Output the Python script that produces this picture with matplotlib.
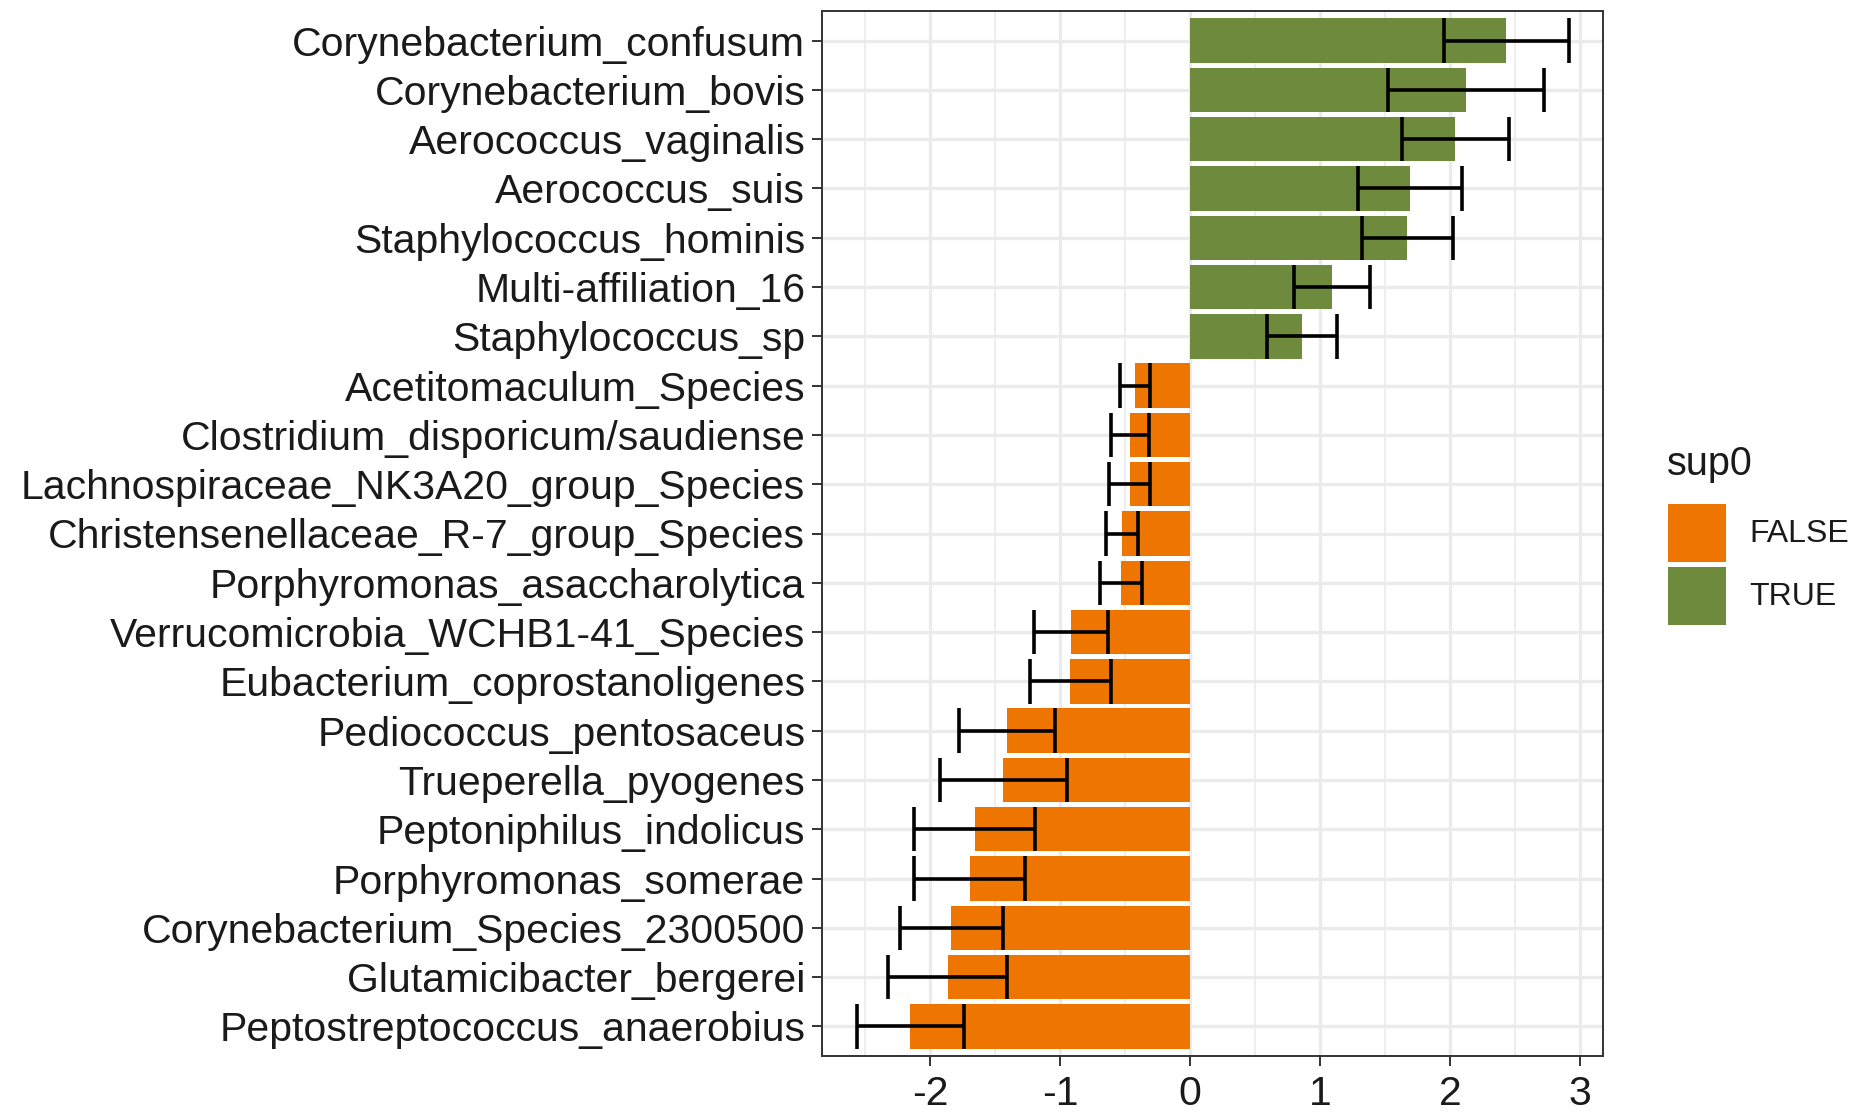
import matplotlib
matplotlib.use("Agg")
import matplotlib.pyplot as plt
from matplotlib.patches import Rectangle

plt.rcParams['font.family'] = ['Liberation Sans', 'DejaVu Sans']
plt.rcParams['axes.unicode_minus'] = False

# especies ordenadas de arriba a abajo
especies = [
    "Corynebacterium_confusum", "Corynebacterium_bovis", "Aerococcus_vaginalis",
    "Aerococcus_suis", "Staphylococcus_hominis", "Multi-affiliation_16",
    "Staphylococcus_sp", "Acetitomaculum_Species", "Clostridium_disporicum/saudiense",
    "Lachnospiraceae_NK3A20_group_Species", "Christensenellaceae_R-7_group_Species",
    "Porphyromonas_asaccharolytica", "Verrucomicrobia_WCHB1-41_Species",
    "Eubacterium_coprostanoligenes", "Pediococcus_pentosaceus", "Trueperella_pyogenes",
    "Peptoniphilus_indolicus", "Porphyromonas_somerae", "Corynebacterium_Species_2300500",
    "Glutamicibacter_bergerei", "Peptostreptococcus_anaerobius",
]
media = [2.43, 2.12, 2.04, 1.69, 1.67, 1.09, 0.86,
         -0.42, -0.46, -0.465, -0.525, -0.53, -0.915, -0.92,
         -1.41, -1.435, -1.655, -1.695, -1.835, -1.865, -2.15]
error = [0.48, 0.60, 0.41, 0.40, 0.35, 0.29, 0.27,
         0.115, 0.145, 0.155, 0.125, 0.16, 0.285, 0.31,
         0.37, 0.485, 0.465, 0.425, 0.395, 0.455, 0.41]

col_false = "#EE7600"
col_true = "#6E8B3D"
sup0 = [m > 0 for m in media]
colores = [col_true if s else col_false for s in sup0]

n = len(especies)
y = list(range(n))

fig = plt.figure(figsize=(18.55, 11.14), dpi=100)
ax = fig.add_axes([822 / 1855, 1 - 1056 / 1114, 781 / 1855, 1045 / 1114])

ax.barh(y, media, height=0.9, color=colores, zorder=2)
lo = [m - e for m, e in zip(media, error)]
hi = [m + e for m, e in zip(media, error)]
ax.hlines(y, lo, hi, color="black", linewidth=2.6, zorder=3)
ax.vlines(lo, [v - 0.45 for v in y], [v + 0.45 for v in y], color="black", linewidth=2.6, zorder=3)
ax.vlines(hi, [v - 0.45 for v in y], [v + 0.45 for v in y], color="black", linewidth=2.6, zorder=3)

ax.set_xlim(-2.83, 3.175)
ax.set_ylim(n - 0.4, -0.6)
ax.set_xticks([-2, -1, 0, 1, 2, 3])
ax.set_xticks([-2.5, -1.5, -0.5, 0.5, 1.5, 2.5], minor=True)
ax.set_yticks(y)
ax.set_yticklabels(especies)

ax.grid(which="major", color="#EBEBEB", linewidth=2.4, zorder=0)
ax.grid(which="minor", axis="x", color="#EBEBEB", linewidth=1.2, zorder=0)
ax.set_axisbelow(True)
ax.tick_params(axis="both", which="major", labelsize=29.5, colors="#333333",
               labelcolor="#1A1A1A", length=7, width=1.4, pad=5)
ax.tick_params(axis="x", pad=7)
ax.tick_params(which="minor", length=0)
for s in ax.spines.values():
    s.set_color("#333333")
    s.set_linewidth(1.4)

# leyenda
fig.text(1667 / 1855, 1 - 464 / 1114, "sup0", fontsize=28.5, va="center", ha="left", color="#1A1A1A")
for (top, c, txt) in [(504, col_false, "FALSE"), (567, col_true, "TRUE")]:
    fig.add_artist(Rectangle((1668 / 1855, 1 - (top + 58) / 1114), 58 / 1855, 58 / 1114,
                             transform=fig.transFigure, facecolor=c, edgecolor="none"))
    fig.text(1749 / 1855, 1 - (top + 30) / 1114, txt, fontsize=23, va="center", ha="left", color="#1A1A1A")

plt.savefig("out.png", dpi=100)
